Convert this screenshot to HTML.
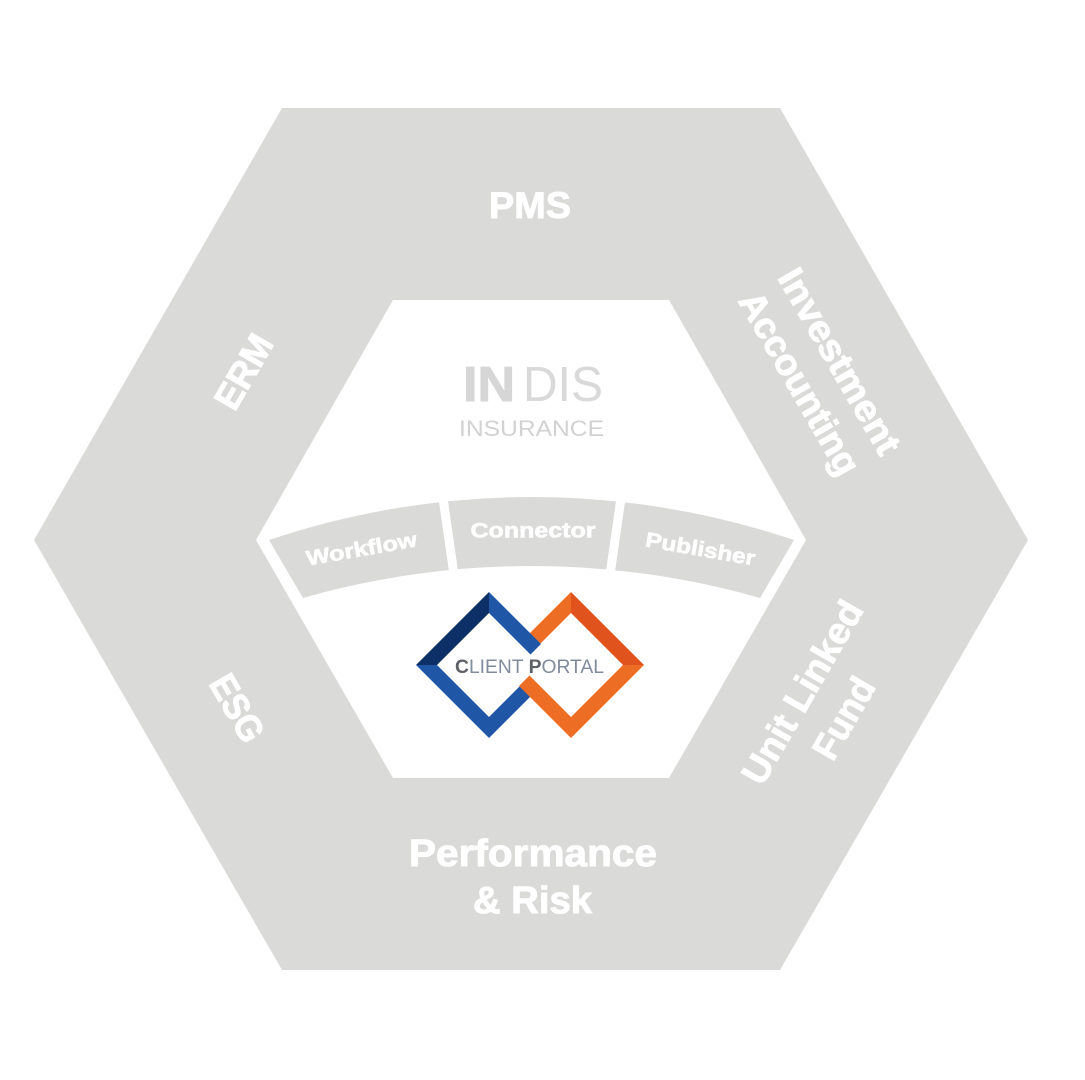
<!DOCTYPE html>
<html>
<head>
<meta charset="utf-8">
<style>
  html,body{margin:0;padding:0;background:#ffffff;}
  svg{display:block;}
  text{font-family:"Liberation Sans",sans-serif;}
  .lbl{fill:#ffffff;stroke:#ffffff;stroke-width:0.9;font-weight:bold;}
  .blbl{fill:#ffffff;stroke:#ffffff;stroke-width:0.6;font-weight:bold;}
</style>
</head>
<body>
<svg width="1085" height="1080" viewBox="0 0 1085 1080" xmlns="http://www.w3.org/2000/svg">
  <rect width="1085" height="1080" fill="#ffffff"/>
  <!-- outer hexagon -->
  <polygon points="282,108 780,108 1028,540 780,970 282,970 34,540" fill="#dadad9"/>
  <!-- inner hexagon -->
  <polygon points="393,300 669,300 806,540 669,778 393,778 256,540" fill="#ffffff"/>

  <!-- band -->
  <path d="M269,540 A823,823 0 0 1 794,540 L760,598 A832,832 0 0 0 303,598 Z" fill="#dadad9"/>
  <line x1="441.5" y1="488" x2="454.5" y2="578" stroke="#ffffff" stroke-width="9"/>
  <line x1="622.5" y1="488" x2="609.5" y2="578" stroke="#ffffff" stroke-width="9"/>

  <!-- band labels -->
  <g transform="translate(361.5,548.5) rotate(-10)">
    <text class="blbl" x="0" y="7.5" text-anchor="middle" font-size="21" textLength="112" lengthAdjust="spacingAndGlyphs">Workflow</text>
  </g>
  <g transform="translate(533,530)">
    <text class="blbl" x="0" y="7.5" text-anchor="middle" font-size="21" textLength="125" lengthAdjust="spacingAndGlyphs">Connector</text>
  </g>
  <g transform="translate(700.5,548.5) rotate(10)">
    <text class="blbl" x="0" y="7.5" text-anchor="middle" font-size="21" textLength="111" lengthAdjust="spacingAndGlyphs">Publisher</text>
  </g>

  <!-- outer labels -->
  <text class="lbl" x="530" y="218" text-anchor="middle" font-size="37" textLength="82" lengthAdjust="spacingAndGlyphs">PMS</text>
  <text class="lbl" x="533" y="866" text-anchor="middle" font-size="38" textLength="248" lengthAdjust="spacingAndGlyphs">Performance</text>
  <text class="lbl" x="532.5" y="913" text-anchor="middle" font-size="38" textLength="119" lengthAdjust="spacingAndGlyphs">&amp; Risk</text>

  <g transform="translate(243.5,371.5) rotate(-60)">
    <text class="lbl" x="0" y="13" text-anchor="middle" font-size="37" textLength="80" lengthAdjust="spacingAndGlyphs">ERM</text>
  </g>
  <g transform="translate(237.5,708) rotate(60)">
    <text class="lbl" x="0" y="13" text-anchor="middle" font-size="37" textLength="72" lengthAdjust="spacingAndGlyphs">ESG</text>
  </g>
  <g transform="translate(840,361) rotate(60)">
    <text class="lbl" x="0" y="13" text-anchor="middle" font-size="37" textLength="208" lengthAdjust="spacingAndGlyphs">Investment</text>
  </g>
  <g transform="translate(800,383) rotate(60)">
    <text class="lbl" x="0" y="13" text-anchor="middle" font-size="37" textLength="205" lengthAdjust="spacingAndGlyphs">Accounting</text>
  </g>
  <g transform="translate(802,692) rotate(-60)">
    <text class="lbl" x="0" y="13" text-anchor="middle" font-size="37" textLength="205" lengthAdjust="spacingAndGlyphs">Unit Linked</text>
  </g>
  <g transform="translate(843.5,718) rotate(-60)">
    <text class="lbl" x="0" y="13" text-anchor="middle" font-size="37" textLength="88" lengthAdjust="spacingAndGlyphs">Fund</text>
  </g>

  <!-- INDIS INSURANCE -->
  <text x="463" y="401" font-size="49" font-weight="bold" fill="#d6d6d6" stroke="#d6d6d6" stroke-width="1" textLength="52" lengthAdjust="spacingAndGlyphs">IN</text>
  <text x="523" y="401" font-size="49" font-weight="normal" fill="#d9d9d9" textLength="80" lengthAdjust="spacingAndGlyphs">DIS</text>
  <text x="459" y="436" font-size="22" font-weight="normal" fill="#d2d2d2" textLength="145" lengthAdjust="spacingAndGlyphs">INSURANCE</text>

  <!-- Client portal logo -->
  <polygon points="571,592 571,613 536.5,647.5 526,637" fill="#ee6d24"/>
  <polygon points="489,738 489,717 523.5,682.5 534,693" fill="#1f56a6"/>
  <polygon points="416,665 489,592 489,613 437,665" fill="#0d3166"/>
  <polygon points="416,665 489,738 489,717 437,665" fill="#1f56a6"/>
  <polygon points="489,592 541,644 530.5,654.5 489,613" fill="#1f56a6"/>
  <polygon points="571,592 644,665 623,665 571,613" fill="#e0531c"/>
  <polygon points="644,665 571,738 571,717 623,665" fill="#ee6d24"/>
  <polygon points="571,738 519,686 529.5,675.5 571,717" fill="#ee6d24"/>

  <text x="455" y="673" font-size="19.5" fill="#808b9d" textLength="149" lengthAdjust="spacingAndGlyphs"><tspan font-weight="bold" fill="#5f6168">C</tspan>LIENT <tspan font-weight="bold" fill="#5f6168">P</tspan>ORTAL</text>
</svg>
</body>
</html>
